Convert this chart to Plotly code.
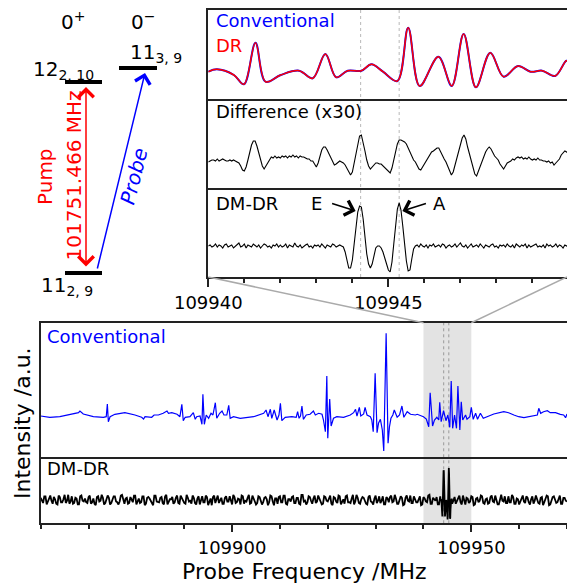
import numpy as np
import plotly.graph_objects as go

# ----------------------------- data -----------------------------
# zoomed window (inset), MHz
ZOOM_START = 109940.0
ZOOM_STEP = 0.05
# Conventional / DR spectrum in the zoom window (offset from ZOOM_START, MHz)
CONV_ZOOM_F = [0.0, 0.24, 0.71, 0.99, 1.31, 1.59, 2.01, 2.52, 2.90, 3.25, 3.55, 3.87, 4.25, 4.53,
               4.85, 5.25, 5.55, 5.87, 6.39, 6.76, 7.09, 7.43, 7.83, 8.20, 8.60, 8.95, 9.27, 9.63,
               9.94, 10.0]
CONV_ZOOM_Y = [0.3, 2.7, -3, -12.3, 29.3, -9.7, -3, 1.3, -6.3, 18, -5.3, 1.3, 1.3, 7.7,
               0.3, -9, 44.3, -14, 15.3, -14, 38, -15.3, 19.3, -4.7, 6, 0.3, 1.3, -4,
               11.3, 10]
DR_ZOOM_Y = [0.3, 2.7, -3, -12.3, 29.3, -9.7, -3, 1.3, -6.3, 18, -5.3, 1.3, 1.3, 7.7,
             0.3, -9, 44.3, -14, 15.3, -14, 38, -15.3, 19.3, -4.7, 6, 0.3, 1.3, -4,
             11.3, 10]
# Difference (x30), sampled every ZOOM_STEP
DIFF_ZOOM_Y = [-2, -1, 0, 0, -1, 1, -1, 0, 1, 0, -1, -1, 0, -1, 0, -1, -2, -3, -6, -10,
               -11, -7, 0, 8, 15, 19, 19, 14, 7, 0, -6, -9, -6, -2, 1, 3, 2, 4, 2, 3,
               2, 4, 3, 4, 2, 4, 3, 5, 3, 4, 2, 4, 3, 3, 2, 1, 1, -1, -1, -4,
               -7, -3, 4, 10, 13, 13, 10, 6, 3, -1, -5, -4, -2, -1, -2, -3, -5, -8, -12, -15,
               -12, -3, 7, 17, 24, 25, 18, 9, 0, -6, -9, -7, -4, -3, -3, -4, -4, -6, -8, -10,
               -12, -13, -8, 1, 9, 16, 20, 20, 19, 18, 16, 12, 8, 4, 0, -2, -6, -9, -10, -7,
               -3, -1, 2, 5, 8, 9, 11, 12, 12, 8, 4, 1, -2, -6, -11, -15, -12, -5, 2, 8,
               15, 22, 25, 21, 13, 6, -1, -8, -14, -16, -11, -5, -1, 3, 8, 11, 13, 11, 7, 4,
               2, 0, -4, -7, -9, -6, -3, -2, -1, 1, 0, 2, 3, 2, 3, 1, 2, 1, 3, 1,
               0, 1, 0, 2, 0, 0, -1, -1, -2, -1, -3, -2, -5, -3, -1, 1, 5, 7, 9, 8, 6]
# DM-DR, sampled every ZOOM_STEP
DMDR_ZOOM_Y = [0, 1, -1, 0, 2, -1, 1, 0, -2, 1, 2, -1, 0, 1, -2, 0, 1, 3, -1, 0,
               2, -2, 1, 0, -1, 2, 0, -1, 1, -2, 0, 2, 1, -1, 0, -2, 1, 0, 2, -1,
               1, -1, 0, 2, -2, 1, 0, -1, 3, 0, -1, 1, -2, 0, 1, 2, -1, 0, -2, 1,
               0, 1, -1, 2, 0, -2, 1, 0, -1, 2, 1, -1, 0, 1,
               0, -1, -6, -15, -22, -22, -14, 2, 20, 34, 40, 39, 27, 8, -8, -18, -22, -18, -8, -2,
               0, 0, -2, -6, -12, -19, -24, -26, -16, 2, 22, 37, 43, 36, 20, 2, -15, -25, -24, -13,
               -3, 0,
               1, -1, 2, 0, -1, 1, -2, 1, 0, 2, -1, 0, 1, -1, 2, 1, -2, 0, 1, -1,
               0, 2, -1, 1, 3, 0, -1, 1, -2, 0, 2, -1, 0, 1, -1, 2, 0, -2, 1, 0,
               -1, 1, 2, -1, 0, -2, 1, 0, 1, -1, 2, 0, -1, 1, -2, 2, 0, -1, 1, 0,
               2, -2, 1, -1, 0, 1, 2, -1, 0, -1, 1, -2, 2, 0, 1, -1, 0, 2, -1, 1,
               0, -2, 1, 0, 1]
# E / A line positions (dotted markers), MHz
LINE_F = [109944.23, 109945.30]

# full overview, Conventional (offset from CONV_BASE, MHz)
CONV_BASE = 109860.0
CONV_F = [0.0, 1.9, 4.0, 6.1, 7.9, 8.2, 8.9, 11.0, 13.1, 13.7, 13.93, 14.14, 14.5, 15.5, 17.6,
          19.7, 21.1, 21.5, 21.8, 23.2, 23.7, 24.6, 25.6, 26.4, 26.7, 27.4, 28.5, 29.1, 29.5,
          29.8, 30.2, 31.2, 31.9, 32.3, 32.6, 33.3, 33.7, 33.9, 34.2, 34.6, 35.1, 35.6, 36.0,
          36.5, 36.8, 37.4, 37.9, 38.3, 38.9, 39.3, 39.6, 40.3, 41.7, 44.5, 46.6, 47.1, 47.5,
          48.0, 48.3, 48.8, 49.4, 49.8, 50.1, 50.4, 51.1, 52.5, 53.4, 53.7, 54.0, 54.3, 54.6,
          54.9, 55.5, 56.3, 57.0, 57.4, 58.1, 58.8, 59.1, 59.5, 59.8, 60.0, 60.4, 60.7, 61.2,
          61.9, 63.3, 64.7, 65.4, 65.8, 66.1, 66.6, 66.9, 67.5, 67.8, 68.2, 68.9, 69.2, 69.5,
          69.9, 70.3, 70.6, 71.0, 71.4, 71.7, 72.2, 72.6, 72.9, 73.2, 73.6, 73.9, 74.5, 75.0,
          75.5, 75.9, 76.6, 77.3, 78.3, 78.7, 80.0, 80.6, 81.1, 81.4, 81.9, 82.3, 82.8, 83.2,
          83.4, 83.7, 84.2, 84.7, 85.1, 85.5, 85.8, 86.1, 86.5, 86.9, 87.2, 87.6, 87.9, 88.2,
          88.8, 89.1, 89.7, 90.0, 90.4, 90.9, 91.3, 91.9, 92.5, 93.3, 94.7, 96.8, 97.8, 98.9,
          99.9, 101.0, 102.0, 103.1, 103.8, 104.1, 104.5, 105.1, 105.9, 106.5, 107.6, 108.6,
          109.3, 109.7, 110.0]
CONV_Y = [0, -1.3, -0.7, 1.7, 3.3, 5, 2, -0.7, -1.3, -0.7, 12, -5.7, -0.7, 1.7, 3.3,
          1, -1.3, -3, -0.7, -1.3, 1, 1, 2.7, 5, 2.7, 3.3, 1.7, -0.7, 11.7,
          -4.7, -1.3, -0.7, 3.3, -3.3, -0.7, 0, -8.3, 21.7, -8.3, 1, -2.3, 2.7, 1,
          13.3, -2.3, 2.7, 5, 1, 1, 10.7, -2.3, -0.7, -2.3, -0.7, 2.7, 6, -0.7,
          6.7, -2.3, 6, -4, 1, 12.7, -4.7, -1.3, -0.7, -1.3, 4.3, -2.3, 0, 10,
          -3.3, 1, 1.7, 5, 1, 2.7, 1.7, -4, -15.7, 40, -22.3, 17, -10, -2.3,
          -0.7, -1.3, 1, 3.3, 6.7, 0, 8.7, 0, 2, 8.7, 1, -0.7, -4, -15.7,
          42.7, -16.7, -7.3, -3.3, -14, -35, 82.7, -27.3, -10.7, -2.3, 1, 6, -1.3, 1,
          10, -1.3, 4.3, 1.7, 1, 1.7, -0.7, -3, -10.7, 23.3, -10, -4, -1.3, -4,
          13.7, -5.7, 5.3, -4.7, 1, -11.3, 35, -12.3, 1, -12.3, 30, -14, 14.3, -4,
          1, -3.3, -0.7, 8.7, -3.3, 2.7, -3.3, 2.7, -2.3, -0.7, 2, 4.3, 3.3, 1,
          -0.7, -1.7, -0.7, 0, 1, 7.7, 2.7, 4.3, 5.3, 3.3, 3.3, 1.7,
          1, -1.7, 2]
# full overview, DM-DR baseline noise: samples at DMDR_START + k*DMDR_STEP ...
DMDR_START = 109860.0
DMDR_STEP = 0.5
DMDR_NOISE_Y = [3, -4, 5, -2, 6, -5, 1, -6, 4, -3, 7, -1, -5, 5, -4, 2, -6, 6, -2, -3,
                4, -5, 2, -7, 5, -1, 3, -4, 6, -6, 1, 5, -3, -2, 7, -5, 3, -4, 0, 6,
                -6, 2, -3, 5, -5, 4, -1, -7, 6, -2, 3, -4, 5, -6, 1, 4, -3, 6, -5, 2,
                -4, 7, -2, -5, 3, -6, 5, 0, -3, 6, -7, 2, 4, -4, 6, -1, -5, 3, -2, 5,
                -6, 4, -3, 1, 6, -5, -2, 7, -4, 3, -6, 5, -1, -3, 4, -7, 6, -2, 2, -5,
                5, -3, 6, -6, 1, 4, -4, 3, -5, 7, -2, -6, 5, -1, 2, -4, 6, -3, -5, 4,
                -2, 6, -7, 3, -4, 5, -1, -5, 6, -3, 2, -6, 7, -4, 1, 3, -5, 4, -2, -6,
                6, -1, -4, 5, -6, 2, 4, -3, 7, -5, -1, 3, -6, 6, -2, -4, 5, -3, 1, -7,
                4, -2, 6, -5, 3, -1, -6, 5, -4, 2, 7, -3, -5, 4, -2, 6, -6, 1, 3, -4,
                5, -7, 2, -3, 6, -4, 1, -5, 4, -2, 6, -6, 3, -1, 5, -4, -3, 7, -5, 2,
                -6, 4, -2, 5, -3, 1, -5, 6, -4, 3, -7, 2, 5, -6, 4, -1, -3, 6, -5, 3, -2]
# ... and the interleaved samples at DMDR_START + DMDR_STEP/2 + k*DMDR_STEP
DMDR_NOISE_Y2 = [-2, 5, -6, 3, -1, 4, -5, 6, -3, 1, -4, 7, -2, -5, 3, -6, 5, -1, 2, -4,
                 6, -3, -5, 4, -2, 7, -6, 1, 3, -4, 5, -2, -6, 6, -1, 2, -5, 4, -3, 6,
                 -1, -4, 5, -7, 3, 2, -5, 6, -2, -3, 4, -6, 7, -1, 1, -5, 3, -4, 6, -2,
                 -5, 3, -1, 6, -4, 2, -6, 5, -3, 4, -2, -7, 6, 1, -4, 3, -5, 5, -2, -3,
                 7, -4, 2, -6, 5, -1, 3, -5, 6, -2, -4, 4, -6, 3, 1, -3, 5, -7, 2, 4,
                 -3, 6, -5, 1, -2, 5, -4, 3, -6, 7, -1, -3, 4, -5, 6, -2, 2, -6, 5, -1,
                 3, -5, 4, -2, 6, -6, 1, 5, -3, -4, 7, -2, 3, -5, 4, -1, -6, 6, -3, 2,
                 -4, 5, -1, -6, 4, -3, 6, -2, 2, -5, 5, -7, 3, -1, 6, -4, 1, -3, 5, -6,
                 2, -3, 7, -5, 1, 4, -6, 3, -2, 5, -4, 6, -1, -5, 3, -3, 6, -6, 2, -2,
                 4, -6, 3, -1, 5, -5, 2, -4, 6, -3, 1, -6, 7, -2, -4, 5, -3, 4, -5, 1,
                 -2, 6, -4, 3, -6, 5, -1, 2, -5, 4, -3, 6, -7, 1, 5, -4, 2, -5, 3, -1]
SHADE_F = [109940.0, 109950.0]

# ----------------------------- build -----------------------------
W, H = 567, 584
FONT = "DejaVu Sans"
BLUE, RED, AX = "#0000ff", "#ff0000", "#222222"


def X(px):
    return px / W


def Y(py):
    return 1 - py / H


zoom_grid = ZOOM_START + ZOOM_STEP * np.arange(len(DMDR_ZOOM_Y))
diff_grid = ZOOM_START + ZOOM_STEP * np.arange(len(DIFF_ZOOM_Y))
conv_zoom_f = ZOOM_START + np.array(CONV_ZOOM_F)

dm_f = np.concatenate([DMDR_START + DMDR_STEP * np.arange(len(DMDR_NOISE_Y)),
                       DMDR_START + DMDR_STEP / 2 + DMDR_STEP * np.arange(len(DMDR_NOISE_Y2))])
dm_y = np.array(DMDR_NOISE_Y + DMDR_NOISE_Y2, float)
zy = np.array(DMDR_ZOOM_Y, float)
sel = (zoom_grid >= 109943.6) & (zoom_grid <= 109945.9)
keep = (dm_f < 109943.6) | (dm_f > 109945.9)
all_f = np.concatenate([dm_f[keep], zoom_grid[sel]])
all_y = np.concatenate([dm_y[keep], zy[sel]])
order = np.argsort(all_f)
all_f, all_y = all_f[order], all_y[order]

fig = go.Figure()
fig.add_trace(go.Scatter(x=conv_zoom_f, y=CONV_ZOOM_Y, mode="lines", xaxis="x", yaxis="y",
                         line=dict(color=BLUE, width=2.0, shape="spline", smoothing=1.0)))
fig.add_trace(go.Scatter(x=conv_zoom_f, y=DR_ZOOM_Y, mode="lines", xaxis="x", yaxis="y",
                         line=dict(color=RED, width=1.5, shape="spline", smoothing=1.0)))
fig.add_trace(go.Scatter(x=diff_grid, y=DIFF_ZOOM_Y, mode="lines", xaxis="x2", yaxis="y2",
                         line=dict(color="black", width=1.1)))
fig.add_trace(go.Scatter(x=zoom_grid, y=DMDR_ZOOM_Y, mode="lines", xaxis="x3", yaxis="y3",
                         line=dict(color="black", width=1.1)))
fig.add_trace(go.Scatter(x=CONV_BASE + np.array(CONV_F), y=CONV_Y, mode="lines",
                         xaxis="x4", yaxis="y4", line=dict(color=BLUE, width=1.2)))
fig.add_trace(go.Scatter(x=all_f, y=all_y, mode="lines", xaxis="x5", yaxis="y5",
                         line=dict(color="black", width=1.8)))

LW = 2
xbase = dict(showline=True, linecolor=AX, linewidth=LW, mirror=False, showgrid=False,
             zeroline=False, ticks="", showticklabels=False, automargin=False)
ybase = dict(showline=True, linecolor=AX, linewidth=LW, mirror=False, showgrid=False,
             zeroline=False, ticks="", showticklabels=False, automargin=False)
inset_dom = [X(208.3), 1.0]
inset_rng = [109940.0, 109949.96]
full_dom = [X(40.7), 1.0]
full_rng = [109860.0, 109970.0]

tickstyle = dict(ticks="outside", tickcolor=AX, tickwidth=1.5, tickformat="d",
                 tickfont=dict(family=FONT, size=18, color="black"), showticklabels=True,
                 tickmode="linear")

fig.update_layout(
    width=W, height=H, margin=dict(l=0, r=0, t=0, b=0, pad=0, autoexpand=False),
    paper_bgcolor="white", plot_bgcolor="rgba(0,0,0,0)", showlegend=False,
    font=dict(family=FONT, size=18, color="black"),
    xaxis=dict(xbase, domain=inset_dom, range=inset_rng, anchor="y", mirror=True),
    xaxis2=dict(xbase, domain=inset_dom, range=inset_rng, anchor="y2"),
    xaxis3=dict(xbase, domain=inset_dom, range=inset_rng, anchor="y3", **tickstyle,
                tick0=109940, dtick=5, ticklen=8,
                minor=dict(dtick=1, ticks="outside", ticklen=4, tickwidth=1.5,
                           tickcolor=AX, showgrid=False)),
    xaxis4=dict(xbase, domain=full_dom, range=full_rng, anchor="y4", mirror=True),
    xaxis5=dict(xbase, domain=full_dom, range=full_rng, anchor="y5", **tickstyle,
                tick0=109900, dtick=50, ticklen=7,
                minor=dict(dtick=10, ticks="outside", ticklen=4, tickwidth=1.5,
                           tickcolor=AX, showgrid=False)),
    yaxis=dict(ybase, domain=[Y(99), Y(9.7)], range=[-27, 62.3], anchor="x"),
    yaxis2=dict(ybase, domain=[Y(188), Y(99)], range=[-28, 61], anchor="x2"),
    yaxis3=dict(ybase, domain=[Y(277), Y(188)], range=[-31, 58], anchor="x3"),
    yaxis4=dict(ybase, domain=[Y(456.7), Y(322.7)], range=[-40.7, 93.3], anchor="x4"),
    yaxis5=dict(ybase, domain=[Y(523.3), Y(456.7)], range=[-31.3, 58.2], anchor="x5"),
)

shapes = []
# shaded zoom window in overview
shapes.append(dict(type="rect", xref="x5", yref="paper", x0=SHADE_F[0], x1=SHADE_F[1],
                   y0=Y(523.3), y1=Y(322.7), fillcolor="#e3e3e3", line=dict(width=0),
                   layer="below"))
for f in LINE_F:
    shapes.append(dict(type="line", xref="x3", yref="paper", x0=f, x1=f, y0=Y(277), y1=Y(9.7),
                       line=dict(color="#b8b8b8", width=1, dash="dot"), layer="below"))
    shapes.append(dict(type="line", xref="x5", yref="paper", x0=f, x1=f, y0=Y(523.3),
                       y1=Y(322.7), line=dict(color="#999999", width=1, dash="dot"),
                       layer="below"))
# connector lines inset -> shaded window
shade_l = 40.7 + (SHADE_F[0] - full_rng[0]) / (full_rng[1] - full_rng[0]) * (W - 40.7)
shade_r = 40.7 + (SHADE_F[1] - full_rng[0]) / (full_rng[1] - full_rng[0]) * (W - 40.7)
shapes.append(dict(type="line", xref="paper", yref="paper", x0=X(208.3), y0=Y(277),
                   x1=X(shade_l), y1=Y(322.7), line=dict(color="#aaaaaa", width=1.5)))
shapes.append(dict(type="line", xref="paper", yref="paper", x0=X(567), y0=Y(277),
                   x1=X(shade_r), y1=Y(322.7), line=dict(color="#aaaaaa", width=1.5)))
# energy levels
for (x0, x1, yy) in [(65, 102, 82), (119, 157, 68), (65, 102, 273)]:
    shapes.append(dict(type="line", xref="paper", yref="paper", x0=X(x0), x1=X(x1),
                       y0=Y(yy), y1=Y(yy), line=dict(color="black", width=4)))
fig.update_layout(shapes=shapes)

ann = []


def txt(px, py, s, color="black", size=18, xanchor="left", angle=0):
    ann.append(dict(x=X(px), y=Y(py), xref="paper", yref="paper", text=s, showarrow=False,
                    xanchor=xanchor, yanchor="middle", textangle=angle,
                    font=dict(family=FONT, size=size, color=color)))


txt(214, 21, "Conventional", BLUE)
txt(214, 46, "DR", RED)
txt(214, 111, "Difference (x30)")
txt(214, 203, "DM-DR")
txt(316.7, 203, "E", xanchor="center")
txt(439.5, 203, "A", xanchor="center")
txt(45, 336, "Conventional", BLUE)
txt(45, 468, "DM-DR")
txt(22, 423, "Intensity /a.u.", size=22, xanchor="center", angle=-90)
txt(304, 571, "Probe Frequency /MHz", size=22, xanchor="center")
# energy diagram text
txt(73, 21, "0<sup>+</sup>", size=20, xanchor="center")
txt(143, 21, "0<sup>\u2212</sup>", size=20, xanchor="center")
txt(96, 70, "12<sub>2, 10</sub>", size=20, xanchor="right")
txt(128, 53, "11<sub>3, 9</sub>", size=20)
txt(39, 286, "11<sub>2, 9</sub>", size=20)
txt(45, 177, "Pump", RED, size=20, xanchor="center", angle=-90)
txt(73.5, 176, "101751.466 MHz", RED, size=20, xanchor="center", angle=-90)
txt(134, 176, "<i>Probe</i>", BLUE, size=20, xanchor="center", angle=-76)

# arrows
ann.append(dict(x=X(86), y=Y(87), xref="paper", yref="paper", ax=0, ay=181, axref="pixel",
                ayref="pixel", text="", showarrow=True, arrowside="end+start",
                arrowhead=4, startarrowhead=4, arrowsize=2, startarrowsize=2,
                arrowwidth=1.5, arrowcolor=RED, standoff=0, startstandoff=0))
ann.append(dict(x=X(145), y=Y(73), xref="paper", yref="paper", ax=-48, ay=197, axref="pixel",
                ayref="pixel", text="", showarrow=True, arrowhead=4, arrowsize=2,
                arrowwidth=1.5, arrowcolor=BLUE, standoff=0))
ann.append(dict(x=109944.09, y=35, xref="x3", yref="y3", ax=-25, ay=-8, text="",
                showarrow=True, arrowhead=4, arrowsize=2, arrowwidth=1.5,
                arrowcolor="black", standoff=0))
ann.append(dict(x=109945.39, y=35, xref="x3", yref="y3", ax=25, ay=-8, text="",
                showarrow=True, arrowhead=4, arrowsize=2, arrowwidth=1.5,
                arrowcolor="black", standoff=0))
fig.update_layout(annotations=ann)

fig.write_html("out.html")
